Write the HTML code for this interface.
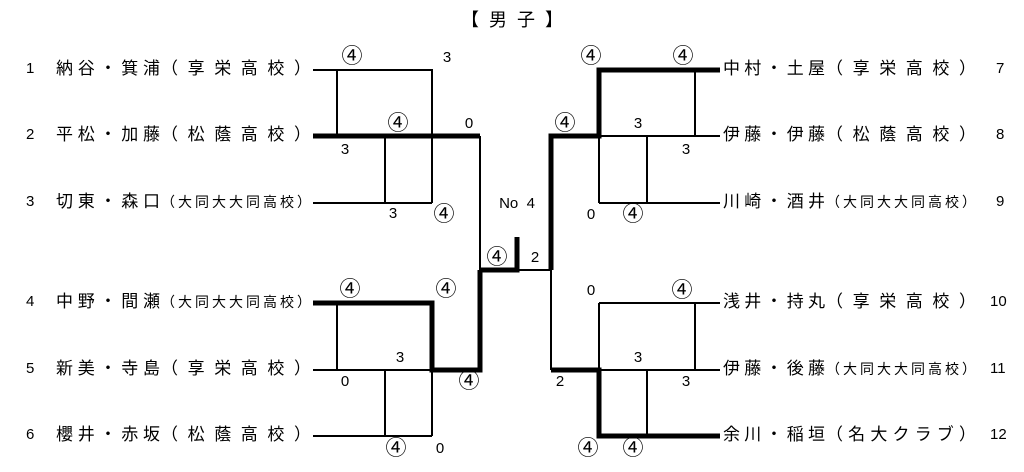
<!DOCTYPE html>
<html><head><meta charset="utf-8"><style>
body{margin:0;width:1024px;height:472px;background:#fff;position:relative;overflow:hidden;font-family:"Liberation Sans","Noto Sans CJK JP",sans-serif;color:#000}
.r{position:absolute;display:flex;justify-content:space-between;font-size:17px;line-height:20px;height:20px;align-items:center}
.s{font-size:14px}
.t{position:absolute;font-size:15px;line-height:16px;transform:translate(-50%,-50%);white-space:nowrap}
.c{font-size:21px;line-height:20px}
.n{position:absolute;font-size:15px;line-height:20px}
svg{position:absolute;left:0;top:0}
</style></head><body>
<div class="t" style="left:512px;top:20px;font-size:18px;letter-spacing:10px;padding-left:10px">【男子】</div>
<svg width="1024" height="472" stroke="#000" fill="none">
<g stroke-width="2">
<path d="M313 70H432V203M337 70V136M385 136V203M313 203H432M480 136V270M517 270H551"/>
<path d="M337 303V370M313 370H432M385 370V436M313 436H432M432 370V436"/>
<path d="M695 70V136M599 136H720M647 136V203M599 136V203M599 203H720"/>
<path d="M551 270V370M599 303H720M599 303V370M695 303V370M599 370H720M647 370V436"/>
</g>
<g stroke-width="5">
<path d="M313 136H480"/>
<path d="M480 270H517V237"/>
<path d="M313 303H432V370H480V270"/>
<path d="M720 70H599V136H551V270"/>
<path d="M551 370H599V436H720"/>
</g>
</svg>
<div id="names"></div>
<div class="t c" style="left:352px;top:57px">④</div><div class="t" style="left:447px;top:58px">3</div>
<div class="t c" style="left:398px;top:124px">④</div><div class="t" style="left:469px;top:124px">0</div><div class="t" style="left:345px;top:150px">3</div>
<div class="t" style="left:393px;top:214px">3</div><div class="t c" style="left:444px;top:215px">④</div>
<div class="t" style="left:517px;top:204px">No&nbsp; 4</div>
<div class="t c" style="left:497px;top:258px">④</div><div class="t" style="left:535px;top:258px">2</div>
<div class="t c" style="left:350px;top:290px">④</div><div class="t c" style="left:446px;top:290px">④</div>
<div class="t" style="left:400px;top:358px">3</div><div class="t" style="left:345px;top:382px">0</div><div class="t c" style="left:469px;top:382px">④</div>
<div class="t c" style="left:396px;top:449px">④</div><div class="t" style="left:440px;top:449px">0</div>
<div class="t c" style="left:591px;top:57px">④</div><div class="t c" style="left:683px;top:57px">④</div>
<div class="t c" style="left:565px;top:124px">④</div><div class="t" style="left:638px;top:124px">3</div><div class="t" style="left:686px;top:150px">3</div>
<div class="t" style="left:591px;top:215px">0</div><div class="t c" style="left:633px;top:215px">④</div>
<div class="t" style="left:591px;top:291px">0</div><div class="t c" style="left:682px;top:291px">④</div>
<div class="t" style="left:638px;top:358px">3</div><div class="t" style="left:686px;top:382px">3</div><div class="t" style="left:560px;top:382px">2</div>
<div class="t c" style="left:588px;top:449px">④</div><div class="t c" style="left:633px;top:449px">④</div>
<script>
var L=[["1","納谷・箕浦","（享栄高校）",0,70],["2","平松・加藤","（松蔭高校）",0,136],["3","切東・森口","（大同大大同高校）",1,203],["4","中野・間瀬","（大同大大同高校）",1,303],["5","新美・寺島","（享栄高校）",0,370],["6","櫻井・赤坂","（松蔭高校）",0,436]];
var R=[["7","中村・土屋","（享栄高校）",0,70],["8","伊藤・伊藤","（松蔭高校）",0,136],["9","川崎・酒井","（大同大大同高校）",1,203],["10","浅井・持丸","（享栄高校）",0,303],["11","伊藤・後藤","（大同大大同高校）",1,370],["12","余川・稲垣","（名大クラブ）",0,436]];
var h="";
function row(x1,w1,x2,w2,a,s,y){
 var f=function(str,x,w){var o='<div class="r" style="left:'+x+'px;top:'+(y-11)+'px;width:'+w+'px">';for(var ch of str)o+='<span>'+ch+'</span>';return o+'</div>';};
 return f(a,x1,w1)+f(s,x2,w2);
}
L.forEach(function(e){h+='<div class="n" style="left:26px;top:'+(e[4]-11)+'px">'+e[0]+'</div>';h+=row(56,104,161,150,e[1],e[2],e[4]);});
R.forEach(function(e){h+='<div class="n" style="left:'+(e[0].length>1?990:996)+'px;top:'+(e[4]-11)+'px">'+e[0]+'</div>';h+=row(723,102,826,150,e[1],e[2],e[4]);});
document.getElementById("names").innerHTML=h;
document.querySelectorAll(".r").forEach(function(d){if(d.textContent.indexOf("大同大")>=0)d.classList.add("s");});
</script>
</body></html>
